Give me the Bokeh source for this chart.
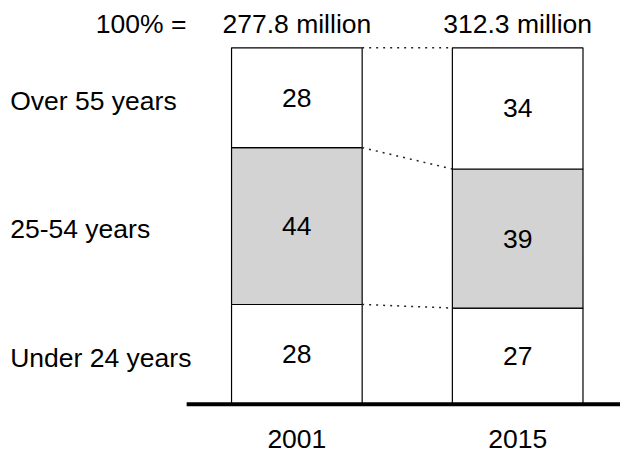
from bokeh.plotting import figure
from bokeh.models import Range1d, ColumnDataSource
from bokeh.core.properties import value
from bokeh.embed import file_html
from bokeh.resources import INLINE
import numpy as np

years = ["2001", "2015"]
totals = ["277.8 million", "312.3 million"]
groups = ["Under 24 years", "25-54 years", "Over 55 years"]
under_24 = [28, 27]
age_25_54 = [44, 39]
over_55 = [28, 34]
fills = ["white", "#d3d3d3", "white"]

FONT = value("Liberation Sans")
FS = "26.5px"

p = figure(width=620, height=456, output_backend="svg", toolbar_location=None,
           x_range=Range1d(-1.342, 1.4656), y_range=Range1d(-14.64, 113.27),
           min_border=0)
p.axis.visible = False
p.grid.visible = False
p.outline_line_color = None

xs = np.arange(len(years))
bw = 0.5915
series = [under_24, age_25_54, over_55]
bottom = np.zeros(len(years))
bounds = [bottom.copy()]
for vals, fc in zip(series, fills):
    top = bottom + np.array(vals)
    src = ColumnDataSource(dict(x=xs, bottom=bottom, top=top,
                                mid=(bottom + top) / 2,
                                lab=[str(v) for v in vals]))
    p.vbar(x="x", bottom="bottom", top="top", width=bw, source=src,
           fill_color=fc, line_color="black", line_width=1.2)
    p.text(x="x", y="mid", text="lab", source=src, text_align="center",
           text_baseline="middle", text_font=FONT, text_font_size=FS,
           text_color="black")
    bounds.append(top.copy())
    bottom = top

# dotted connectors between bars
for b in bounds[1:]:
    p.line(x=[xs[0] + bw / 2, xs[1] - bw / 2], y=[b[0], b[1]],
           line_dash="2 5", line_width=1.5, line_color="#222222")

# baseline
p.line(x=[-0.499, 1.4656], y=[0, 0], line_width=4, line_color="black")

# row labels (beside 2001 segments)
mids0 = [(bounds[i][0] + bounds[i + 1][0]) / 2 - 0.9 for i in range(len(groups))]
p.text(x=[-1.298] * len(groups), y=mids0, text=groups, text_align="left",
       text_baseline="middle", text_font=FONT, text_font_size=FS,
       text_color="black")

# header
p.text(x=list(xs), y=[106.76] * len(years), text=totals, text_align="center",
       text_baseline="middle", text_font=FONT, text_font_size=FS,
       text_color="black")
p.text(x=[-0.5], y=[106.76], text=["100% ="], text_align="right",
       text_baseline="middle", text_font=FONT, text_font_size=FS,
       text_color="black")

# years
p.text(x=list(xs), y=[-9.6] * len(years), text=years, text_align="center",
       text_baseline="middle", text_font=FONT, text_font_size=FS,
       text_color="black")

open("out.html", "w").write(file_html(p, INLINE))
